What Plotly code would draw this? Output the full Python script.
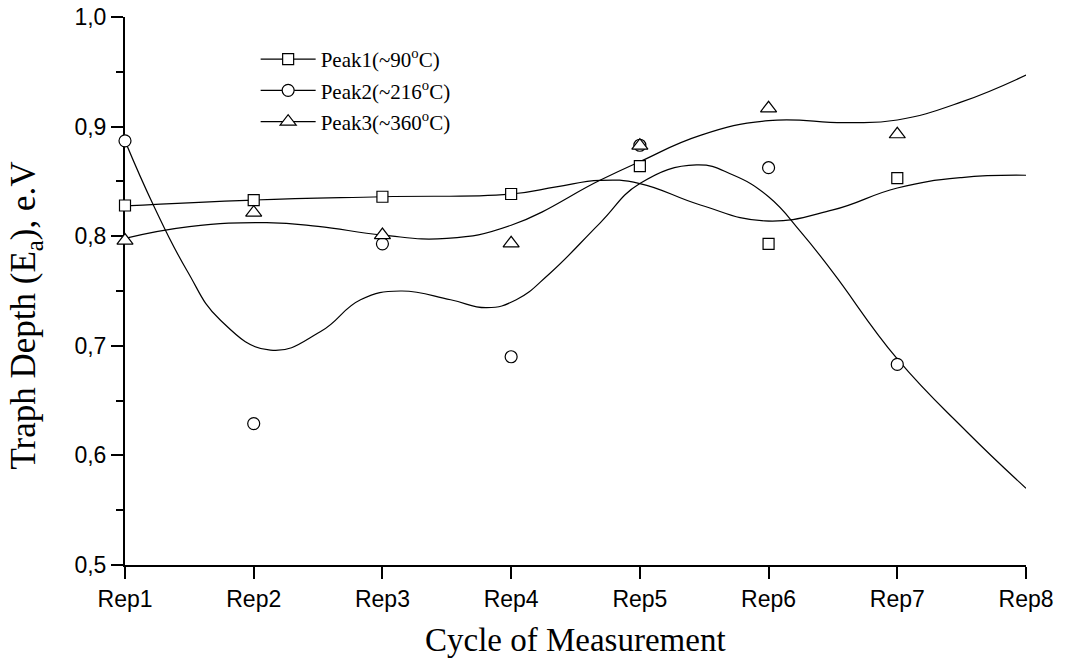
import plotly.graph_objects as go

# ---- data ----
rep_labels = ["Rep1", "Rep2", "Rep3", "Rep4", "Rep5", "Rep6", "Rep7", "Rep8"]
rep_pos = [1, 2, 3, 4, 5, 6, 7, 8]

pt_x = [1, 2, 3, 4, 5, 6, 7]
peak1_y = [0.828, 0.833, 0.836, 0.8385, 0.864, 0.793, 0.853]
peak2_y = [0.887, 0.629, 0.793, 0.690, 0.883, 0.8625, 0.683]
peak3_y = [0.796, 0.8215, 0.801, 0.7935, 0.8826, 0.9167, 0.893]

# fitted curves
fit1_x = [1, 2, 3, 4, 4.35, 4.69, 5, 5.47, 5.97, 6.5, 7, 7.5, 8]
fit1_y = [0.8276, 0.833, 0.836, 0.8385, 0.845, 0.851, 0.848, 0.8285, 0.814,
          0.824, 0.844, 0.8535, 0.8556]

fit2_x = [1, 1.22, 1.48, 1.74, 2.13, 2.52, 2.83, 3.14, 3.53, 3.81, 4.04, 4.3, 4.69,
          5.0, 5.44, 5.72, 6.0, 6.25, 6.5, 7.0, 7.54, 8]
fit2_y = [0.887, 0.8285, 0.769, 0.7235, 0.696, 0.713, 0.742, 0.750, 0.742, 0.7348,
          0.742, 0.766, 0.812, 0.848, 0.865, 0.856, 0.836, 0.804, 0.767, 0.688,
          0.6216, 0.570]

fit3_x = [1, 1.5, 2.1, 2.5, 3, 3.5, 4, 4.69, 5, 5.47, 6, 6.6, 7, 7.5, 8]
fit3_y = [0.798, 0.8087, 0.8123, 0.809, 0.801, 0.798, 0.810, 0.851, 0.868,
          0.892, 0.9054, 0.9036, 0.906, 0.9225, 0.947]

names = ["Peak1(~90<sup>o</sup>C)", "Peak2(~216<sup>o</sup>C)", "Peak3(~360<sup>o</sup>C)"]
symbols = ["square", "circle", "triangle-up"]
sizes = [11, 12, 14]

fig = go.Figure()

fits = [(fit1_x, fit1_y), (fit2_x, fit2_y), (fit3_x, fit3_y)]
pts = [peak1_y, peak2_y, peak3_y]

for (fx, fy) in fits:
    fig.add_trace(go.Scatter(x=fx, y=fy, mode="lines",
                             line=dict(color="black", width=1.2, shape="spline", smoothing=1.3),
                             showlegend=False, cliponaxis=False, hoverinfo="skip"))

for i, py in enumerate(pts):
    fig.add_trace(go.Scatter(x=pt_x, y=py, mode="markers",
                             marker=dict(symbol=symbols[i], size=sizes[i], color="white",
                                         line=dict(color="black", width=1.2)),
                             showlegend=False, cliponaxis=False))

# legend entries
for i in range(3):
    fig.add_trace(go.Scatter(x=[None], y=[None], mode="lines+markers", name=names[i],
                             legendgroup=str(i),
                             line=dict(color="black", width=1.2),
                             marker=dict(symbol=symbols[i], size=sizes[i], color="white",
                                         line=dict(color="black", width=1.2))))

axis_font = dict(family="Liberation Sans, Arial", size=23, color="black")
serif = "Liberation Serif, Times New Roman"

fig.update_layout(
    width=1066, height=661,
    margin=dict(l=125, r=40, t=17, b=96, autoexpand=False),
    paper_bgcolor="white", plot_bgcolor="white",
    separators=",.",
    showlegend=True,
    legend=dict(x=0.145, y=0.96, xanchor="left", yanchor="top",
                font=dict(family=serif, size=21, color="black"),
                bgcolor="rgba(0,0,0,0)", tracegroupgap=1, itemwidth=55,
                traceorder="grouped"),
    xaxis=dict(range=[1, 8], tickvals=rep_pos, ticktext=rep_labels, automargin=False,
               showline=True, linecolor="black", linewidth=2,
               ticks="outside", ticklen=12, tickwidth=2, tickcolor="black",
               showgrid=False, zeroline=False, tickfont=axis_font, layer="below traces"),
    xaxis2=dict(range=[1, 8], overlaying="x", side="top", tickvals=rep_pos, automargin=False,
                showticklabels=False, showline=True, linecolor="black", linewidth=2,
                ticks="inside", ticklen=12, tickwidth=2, tickcolor="black",
                showgrid=False, zeroline=False, layer="below traces"),
    yaxis=dict(range=[0.5, 1.0], dtick=0.1, tick0=0.5, tickformat=".1f", automargin=False,
               showline=True, linecolor="black", linewidth=2,
               ticks="outside", ticklen=12, tickwidth=2, tickcolor="black",
               minor=dict(dtick=0.05, tick0=0.5, ticks="outside", ticklen=7, tickwidth=2,
                          tickcolor="black", showgrid=False),
               showgrid=False, zeroline=False, tickfont=axis_font, layer="below traces"),
    yaxis2=dict(range=[0.5, 1.0], overlaying="y", side="right", dtick=0.1, tick0=0.5,
                automargin=False,
                showticklabels=False, showline=True, linecolor="black", linewidth=2,
                ticks="inside", ticklen=13, tickwidth=2, tickcolor="black",
                minor=dict(dtick=0.05, tick0=0.5, ticks="inside", ticklen=8, tickwidth=2,
                           tickcolor="black", showgrid=False),
                showgrid=False, zeroline=False, layer="below traces"),
    annotations=[
        dict(text="Cycle of Measurement", xref="paper", yref="paper", x=0.5, y=-0.1715,
             xanchor="center", yanchor="bottom", showarrow=False, borderpad=0,
             font=dict(family=serif, size=33, color="black")),
        dict(text="Traph Depth (E<sub>a</sub>), e.V", xref="paper", yref="paper",
             x=-0.11, y=0.455, xanchor="center", yanchor="middle", textangle=-90,
             showarrow=False,
             font=dict(family=serif, size=35, color="black")),
    ],
)

fig.write_html("out.html")
